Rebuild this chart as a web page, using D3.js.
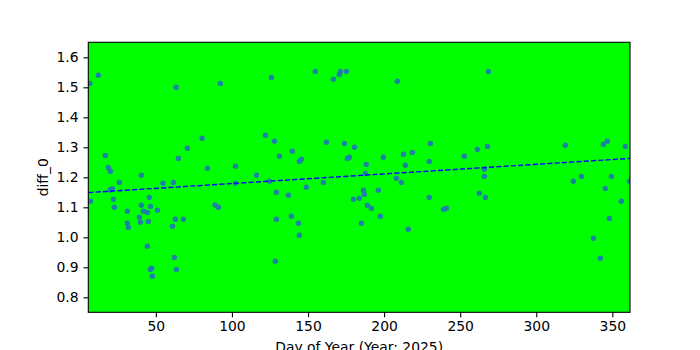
<!DOCTYPE html>
<html>
<head>
<meta charset="utf-8">
<script src="https://cdn.jsdelivr.net/npm/d3@7"></script>
<style>
  html, body { margin: 0; padding: 0; background: #ffffff; }
  svg { display: block; font-family: "DejaVu Sans", sans-serif; }
</style>
</head>
<body>
<svg id="chart" width="700" height="350"></svg>
<script>
// ---- data ----
const dayOfYear = [
  6.6, 12.2, 63.3, 92.4, 80.4, 70.7, 16.8, 64.8, 18.8, 20.1, 83.9, 40.5, 26.0, 54.7, 61.5,
  19.9, 21.4, 7.0, 22.1, 22.7, 45.7, 40.5, 46.4, 31.3, 41.8, 44.4, 51.0, 39.2, 39.8, 45.1,
  31.3, 31.9, 62.8, 68.1, 60.9, 88.9, 91.1, 44.4, 62.2, 46.4, 47.3, 63.5, 47.7,
  125.9, 154.8, 171.3, 170.6, 175.2, 166.7, 122.0, 127.9, 162.1, 173.9, 180.5, 139.7, 131.2,
  145.6, 144.3, 175.9, 177.2, 102.3, 116.1, 124.6, 102.3, 160.1, 148.9, 129.2, 137.1, 179.8,
  183.7, 129.2, 139.1, 143.7, 144.3, 128.5, 185.1,
  208.7, 268.5, 230.4, 218.6, 212.7, 199.5, 188.3, 214.0, 229.7, 252.7, 261.3, 267.9, 187.7,
  208.1, 211.3, 265.9, 265.9, 186.4, 187.0, 196.2, 189.0, 191.6, 197.5, 215.9, 229.7, 239.0,
  240.9, 262.6, 266.5,
  319.1, 344.1, 346.7, 358.5, 324.4, 329.7, 349.4, 361.2, 345.4, 355.9, 348.0, 337.5, 342.1
];
const diff0 = [
  1.513, 1.540, 1.500, 1.513, 1.330, 1.297, 1.273, 1.263, 1.233, 1.220, 1.230, 1.207, 1.183, 1.180, 1.183,
  1.158, 1.162, 1.120, 1.127, 1.100, 1.133, 1.107, 1.103, 1.087, 1.087, 1.083, 1.090, 1.067, 1.050, 1.053,
  1.047, 1.033, 1.060, 1.060, 1.037, 1.108, 1.100, 0.970, 0.933, 0.893, 0.897, 0.893, 0.870,
  1.533, 1.553, 1.553, 1.543, 1.553, 1.527, 1.340, 1.320, 1.317, 1.313, 1.300, 1.287, 1.270,
  1.260, 1.253, 1.263, 1.267, 1.237, 1.207, 1.187, 1.180, 1.183, 1.167, 1.150, 1.140, 1.127,
  1.130, 1.060, 1.070, 1.047, 1.007, 0.920, 1.047,
  1.520, 1.553, 1.313, 1.283, 1.277, 1.267, 1.243, 1.240, 1.253, 1.270, 1.293, 1.303, 1.213,
  1.197, 1.183, 1.227, 1.203, 1.157, 1.143, 1.157, 1.107, 1.097, 1.070, 1.027, 1.133, 1.093,
  1.097, 1.147, 1.133,
  1.307, 1.310, 1.320, 1.303, 1.187, 1.203, 1.203, 1.187, 1.163, 1.120, 1.063, 0.997, 0.930
];
const trendX = [5.6, 361.6];
const trendY = [1.149, 1.263];
const xTicks = [50, 100, 150, 200, 250, 300, 350];
const yTicks = [0.8, 0.9, 1.0, 1.1, 1.2, 1.3, 1.4, 1.5, 1.6];
const xDomain = [5.6, 361.6];
const yDomain = [0.75, 1.65];
const xLabel = "Day of Year (Year: 2025)";
const yLabel = "diff_0";

// ---- layout ----
const margin = { left: 88.3, top: 42.3, right: 70, bottom: 37.7 };
const W = 700, H = 350;
const pw = W - margin.left - margin.right;
const ph = H - margin.top - margin.bottom;
const fs = 13.9;

const svg = d3.select("#chart");
const g = svg.append("g").attr("transform", `translate(${margin.left},${margin.top})`);

const x = d3.scaleLinear().domain(xDomain).range([0, pw]);
const y = d3.scaleLinear().domain(yDomain).range([ph, 0]);

g.append("rect").attr("width", pw).attr("height", ph).attr("fill", "#00ff00");

const clip = svg.append("defs").append("clipPath").attr("id", "clip")
  .append("rect").attr("width", pw).attr("height", ph);

const points = dayOfYear.map((d, i) => ({ x: d, y: diff0[i] }));
g.append("g").attr("clip-path", "url(#clip)")
  .selectAll("circle").data(points).join("circle")
  .attr("cx", d => x(d.x)).attr("cy", d => y(d.y))
  .attr("r", 2.7).attr("fill", "#1f77b4").attr("fill-opacity", 0.9);

g.append("path")
  .datum(trendX.map((d, i) => [d, trendY[i]]))
  .attr("d", d3.line().x(d => x(d[0])).y(d => y(d[1])))
  .attr("fill", "none").attr("stroke", "#0000ff").attr("stroke-width", 1.4)
  .attr("stroke-dasharray", "5.1,2.2");

const xAxis = g.append("g").attr("transform", `translate(0,${ph})`)
  .call(d3.axisBottom(x).tickValues(xTicks).tickFormat(d3.format("d")).tickSize(4.9).tickPadding(4.2));
const yAxis = g.append("g")
  .call(d3.axisLeft(y).tickValues(yTicks).tickFormat(d3.format(".1f")).tickSize(4.9).tickPadding(4.9));

[xAxis, yAxis].forEach(a => {
  a.select(".domain").remove();
  a.selectAll("line").attr("stroke", "#000").attr("stroke-width", 1.1);
  a.selectAll("text").attr("font-size", fs).attr("fill", "#000")
    .attr("font-family", "DejaVu Sans, sans-serif");
});

g.append("rect").attr("width", pw).attr("height", ph)
  .attr("fill", "none").attr("stroke", "#000").attr("stroke-width", 1.1);

svg.append("text").attr("x", margin.left + pw / 2).attr("y", 351.5)
  .attr("text-anchor", "middle").attr("font-size", fs).attr("fill", "#000").text(xLabel);

svg.append("text")
  .attr("transform", `translate(48,${margin.top + ph / 2}) rotate(-90)`)
  .attr("text-anchor", "middle").attr("font-size", fs).attr("fill", "#000").text(yLabel);
</script>
</body>
</html>
